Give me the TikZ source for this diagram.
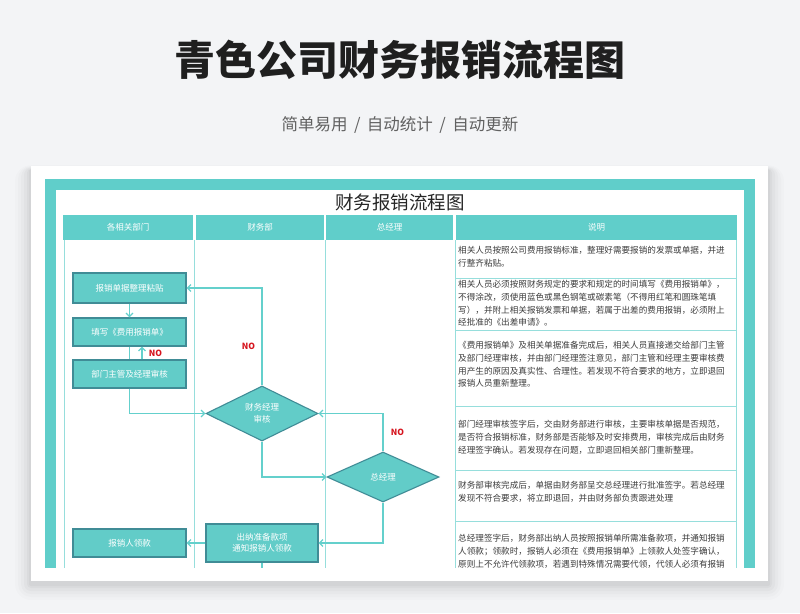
\documentclass[tikz,border=0pt]{standalone}
\usepackage{fontspec}
\setmainfont{Noto Sans CJK SC}
\usepackage{xcolor}
\usetikzlibrary{arrows.meta, positioning, shapes.geometric}
\definecolor{pagegray}{RGB}{243, 244, 246}
\definecolor{frameteal}{RGB}{96, 206, 202}
\definecolor{boxteal}{RGB}{98, 204, 200}
\definecolor{boxedge}{RGB}{64, 140, 150}
\definecolor{lineteal}{RGB}{100, 208, 204}
\definecolor{laneteal}{RGB}{150, 222, 220}
\definecolor{notegray}{RGB}{60, 60, 60}
\definecolor{nored}{RGB}{214, 20, 30}

\begin{document}
\begin{tikzpicture}[
  x=1pt, y=-1pt,
  procbox/.style={draw=boxedge, fill=boxteal, line width=1.1pt, minimum width=113pt,
    minimum height=28pt, align=center, text=white, inner sep=1pt,
    font=\fontsize{8.5}{11.5}\selectfont},
  decision/.style={diamond, draw=boxedge, fill=boxteal, line width=1.1pt, minimum width=112pt,
    minimum height=55pt, inner sep=0pt, align=center, text=white,
    font=\fontsize{8.5}{11.5}\selectfont},
  lanehead/.style={fill=frameteal, minimum height=25pt, inner sep=0pt,
    text=white, font=\fontsize{8.5}{10}\selectfont},
  note/.style={anchor=north west, align=left, inner sep=0pt, text=notegray,
    font=\fontsize{8.6}{12.8}\selectfont},
  nolabel/.style={text=nored, font=\bfseries\fontsize{8.5}{10}\selectfont},
  flow/.style={draw=lineteal, line width=1.3pt, -{Straight Barb[length=3.5pt, width=7pt]}},
  plain/.style={draw=lineteal, line width=1.3pt}
]
\useasboundingbox (0,0) rectangle (800,613);
\fill[pagegray] (0,0) rectangle (800,613);

% card with soft shadow
\foreach \d/\o in {16/0.012, 13/0.015, 10/0.018, 7/0.022, 4/0.026, 2/0.03}
  \fill[black, opacity=\o, rounded corners=\d pt] (31-\d,166-\d*0.3+4) rectangle (768+\d,581+\d+3);
\fill[white] (31,166) rectangle (768,581);

\node[font=\bfseries\fontsize{41}{44}\selectfont, text=black!88] (title) at (400,60) {青色公司财务报销流程图};
\node[font=\fontsize{16.5}{20}\selectfont, text=black!62] (subtitle) at (400,125) {简单易用 \,/\, 自动统计 \,/\, 自动更新};

% sheet
\fill[frameteal] (45,179) rectangle (755,568);
\fill[white] (56,190) rectangle (744,568);
\node[font=\fontsize{18.5}{22}\selectfont, text=black!85] (sheettitle) at (400,202) {财务报销流程图};

\node[lanehead, minimum width=130pt] (hdept) at (128,227.5) {各相关部门};
\node[lanehead, minimum width=128pt] (hfin) at (260,227.5) {财务部};
\node[lanehead, minimum width=127pt] (hgm) at (389.5,227.5) {总经理};
\node[lanehead, minimum width=281pt] (hnote) at (596.5,227.5) {说明};

\foreach \lx in {64, 194.5, 325, 455.5, 736.5}
  \draw[laneteal, line width=1pt] (\lx,240) -- (\lx,568);
\foreach \ly in {278, 330, 406, 470, 521}
  \draw[laneteal, line width=1pt] (455.5,\ly) -- (736.5,\ly);

% flow
\node[procbox, minimum height=30pt] (paste) at (129.5,288) {报销单据整理粘贴};
\node[procbox] (fillform) at (129.5,332) {填写《费用报销单》};
\node[procbox] (deptcheck) at (129.5,374) {部门主管及经理审核};
\node[decision] (fincheck) at (262,413.5) {财务经理\\审核};
\node[decision, minimum height=50pt] (gm) at (383,477) {总经理};
\node[procbox, minimum width=112pt, minimum height=38pt] (cashier) at (262,543) {出纳准备款项\\通知报销人领款};
\node[procbox] (collect) at (129.5,543) {报销人领款};
\coordinate (sheetend) at (262,568);

\draw[flow] (paste) -- (fillform);
\draw[plain] (fillform) -- (deptcheck);
\draw[flow] ([xshift=12.5pt]deptcheck.north) -- node[nolabel, right=3pt] {NO} ([xshift=12.5pt]fillform.south);
\draw[flow] (deptcheck.south) |- (fincheck.west);
\draw[flow] (fincheck.north) |- node[nolabel, pos=0.2, left=3pt] {NO} (paste.east);
\draw[flow] (fincheck.south) |- (gm.west);
\draw[flow] (gm.north) |- node[nolabel, pos=0.25, right=4pt] {NO} (fincheck.east);
\draw[flow] (gm.south) |- (cashier.east);
\draw[flow] (cashier.west) -- (collect.east);
\draw[plain] (cashier.south) -- (sheetend);

% notes
\node[note] (note1) at (458,246) {相关人员按照公司费用报销标准，整理好需要报销的发票或单据，并进\\行整齐粘贴。};
\node[note] (note2) at (458,280) {相关人员必须按照财务规定的要求和规定的时间填写《费用报销单》，\\不得涂改，须使用蓝色或黑色钢笔或碳素笔（不得用红笔和圆珠笔填\\写），并附上相关报销发票和单据，若属于出差的费用报销，必须附上\\经批准的《出差申请》。};
\node[note] (note3) at (458,341) {《费用报销单》及相关单据准备完成后，相关人员直接递交给部门主管\\及部门经理审核，并由部门经理签注意见，部门主管和经理主要审核费\\用产生的原因及真实性、合理性。若发现不符合要求的地方，立即退回\\报销人员重新整理。};
\node[note] (note4) at (458,420) {部门经理审核签字后，交由财务部进行审核，主要审核单据是否规范，\\是否符合报销标准，财务部是否能够及时安排费用，审核完成后由财务\\经理签字确认。若发现存在问题，立即退回相关部门重新整理。};
\node[note] (note5) at (458,481) {财务部审核完成后，单据由财务部呈交总经理进行批准签字。若总经理\\发现不符合要求，将立即退回，并由财务部负责跟进处理};
\begin{scope}
\clip (455,521) rectangle (737,568);
\node[note] (note6) at (458,534) {总经理签字后，财务部出纳人员按照报销单所需准备款项，并通知报销\\人领款；领款时，报销人必须在《费用报销单》上领款人处签字确认，\\原则上不允许代领款项，若遇到特殊情况需要代领，代领人必须有报销};
\end{scope}
\end{tikzpicture}
\end{document}
